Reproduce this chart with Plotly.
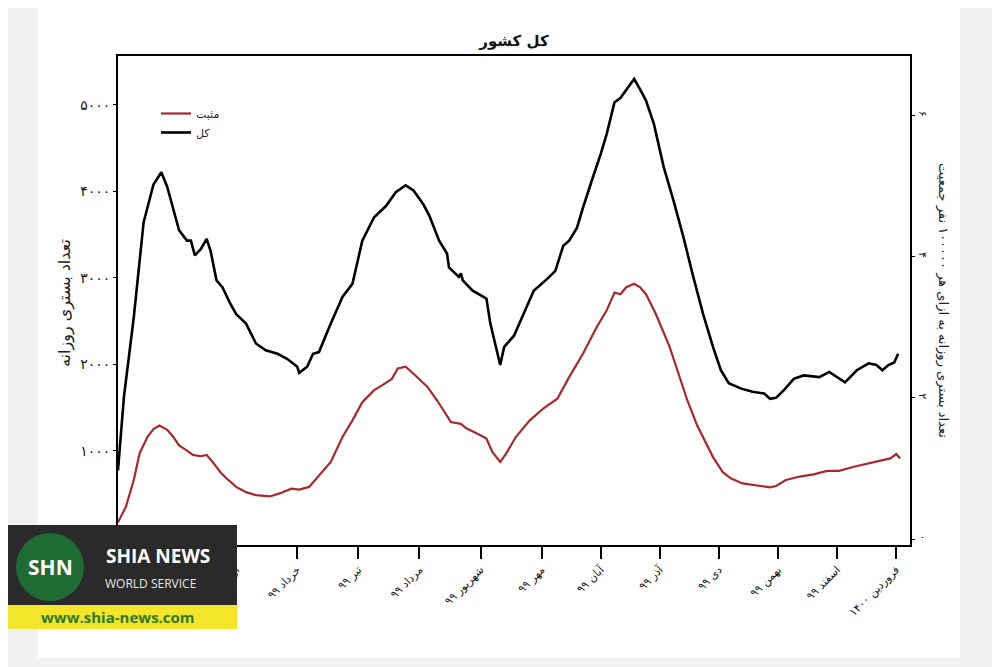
import plotly.graph_objects as go

# day 0 = 1 Esfand 98
days_total = [0, 3, 8, 13, 18, 22, 25, 29, 31, 35, 37, 39, 42, 45, 47, 50, 53, 57, 60, 65,
              70, 75, 81, 86, 91, 92, 96, 99, 102, 108, 114, 119, 124, 130, 136, 141, 146, 150, 155, 158,
              163, 167, 168, 173, 174, 175, 180, 187, 189, 194, 196, 201, 206, 211, 218, 222, 226, 229, 233, 236,
              241, 245, 248, 252, 255, 258, 262, 265, 268, 272, 277, 282, 287, 292, 297, 302, 306, 310, 316, 322,
              328, 331, 334, 338, 343, 348, 353, 356, 361, 365, 369, 375, 381, 385, 388, 391, 394, 396]
total = [770, 1620, 2540, 3640, 4080, 4220, 4050, 3700, 3550, 3430, 3430, 3260, 3330, 3450, 3310, 2970, 2890, 2700, 2580, 2470,
         2240, 2160, 2120, 2060, 1970, 1900, 1970, 2120, 2140, 2470, 2780, 2930, 3430, 3700, 3830, 3990, 4070, 4010, 3850, 3720,
         3430, 3280, 3120, 3010, 3050, 2970, 2850, 2760, 2470, 1990, 2200, 2330, 2580, 2850, 2990, 3080, 3370, 3430, 3580, 3810,
         4160, 4430, 4660, 5030, 5080, 5180, 5300, 5180, 5050, 4780, 4280, 3890, 3470, 3010, 2580, 2200, 1930, 1780, 1720, 1680,
         1660, 1600, 1610, 1700, 1830, 1870, 1860, 1850, 1910, 1850, 1790, 1930, 2010, 1990, 1930, 1990, 2020, 2120]

days_pos = [0, 4, 8, 11, 15, 18, 21, 25, 28, 31, 35, 38, 42, 45, 48, 52, 55, 60, 65, 70,
            77, 82, 88, 92, 97, 102, 108, 114, 119, 124, 130, 135, 139, 142, 146, 150, 157, 162, 166, 169,
            174, 177, 182, 187, 190, 194, 197, 202, 209, 216, 223, 229, 236, 243, 248, 252, 255, 258, 262, 265,
            268, 273, 280, 285, 289, 294, 298, 302, 307, 311, 317, 324, 331, 334, 339, 346, 353, 360, 366, 373,
            380, 387, 392, 395, 397]
positive = [170, 350, 660, 970, 1160, 1250, 1290, 1240, 1160, 1060, 1000, 950, 935, 950, 870, 750, 680, 580, 520, 485,
            470, 505, 560, 550, 580, 715, 870, 1160, 1350, 1560, 1700, 1770, 1830, 1950, 1970, 1890, 1740, 1580, 1430, 1330,
            1310, 1255, 1200, 1140, 985, 870, 965, 1160, 1350, 1490, 1600, 1850, 2120, 2430, 2620, 2830, 2810, 2890, 2930, 2890,
            2810, 2580, 2200, 1870, 1580, 1290, 1100, 925, 750, 680, 620, 600, 575, 590, 660, 700, 725, 765, 765, 810,
            850, 890, 910, 960, 910]

month_days = [29, 60, 91, 122, 153, 184, 215, 245, 275, 305, 335, 365, 395]
month_labels = ['فروردین ۹۹', 'اردیبهشت ۹۹', 'خرداد ۹۹', 'تیر ۹۹', 'مرداد ۹۹', 'شهریور ۹۹', 'مهر ۹۹',
                'آبان ۹۹', 'آذر ۹۹', 'دی ۹۹', 'بهمن ۹۹', 'اسفند ۹۹', 'فروردین ۱۴۰۰']

left_ticks = [0, 1000, 2000, 3000, 4000, 5000]
left_labels = ['۰', '۱۰۰۰', '۲۰۰۰', '۳۰۰۰', '۴۰۰۰', '۵۰۰۰']
right_ticks = [0, 2, 4, 6]
right_labels = ['۰', '۲', '۴', '۶']

FONT = 'DejaVu Sans'
OFF = 8  # page body margin
W, H = 1000 - OFF, 667 - OFF
L, R, T, B = 118, 910, 56, 545  # plot area, in screen pixels


def px(x):
    return (x - L) / (R - L)


def py(y):
    return (B - y) / (B - T)


fig = go.Figure()
fig.add_trace(go.Scatter(x=days_pos, y=positive, mode='lines', name='مثبت',
                         line=dict(color='#a8282c', width=2.2)))
fig.add_trace(go.Scatter(x=days_total, y=total, mode='lines', name='کل',
                         line=dict(color='black', width=2.6)))
# empty trace so that the right axis is drawn
fig.add_trace(go.Scatter(x=[], y=[], yaxis='y2', showlegend=False, hoverinfo='skip'))

fig.update_layout(
    width=W, height=H,
    margin=dict(l=L - OFF, r=1000 - R, t=T - OFF, b=667 - B),
    paper_bgcolor='#f0f1f3', plot_bgcolor='white',
    font=dict(family=FONT, color='#222', size=11),
    title=dict(text='<b>کل کشور</b>', x=px(514), xref='paper', xanchor='center',
               y=1 - (41 - OFF) / H, yanchor='middle',
               font=dict(size=15, color='#111')),
    showlegend=True,
    legend=dict(x=px(156), y=py(99), xanchor='left', yanchor='top', bgcolor='rgba(0,0,0,0)',
                font=dict(size=11), tracegroupgap=4),
    xaxis=dict(range=[0, 402], tickvals=month_days, ticktext=month_labels, tickangle=-45,
               ticks='outside', ticklen=12, tickwidth=1.5, tickcolor='black',
               showline=True, linecolor='black', linewidth=2, mirror=True,
               showgrid=False, zeroline=False, tickfont=dict(size=11, color='#111')),
    yaxis=dict(range=[-92, 5566], tickvals=left_ticks, ticktext=left_labels,
               ticks='outside', ticklen=3, tickcolor='black',
               showline=True, linecolor='black', linewidth=1.8, mirror=True,
               showgrid=False, zeroline=False, tickfont=dict(size=14, color='#111')),
    yaxis2=dict(overlaying='y', side='right', range=[-0.085, 6.84], tickvals=right_ticks, ticktext=right_labels,
                ticks='outside', ticklen=3, tickcolor='black', tickangle=90,
                showline=True, linecolor='black', linewidth=1.8,
                showgrid=False, zeroline=False, tickfont=dict(size=11, color='#111')),
)

# white card behind the chart
fig.add_shape(type='rect', xref='paper', yref='paper', layer='below',
              x0=px(38), x1=px(960), y0=py(658), y1=py(6),
              fillcolor='white', line=dict(width=0))

fig.add_annotation(text='تعداد بستری روزانه', xref='paper', yref='paper',
                   x=px(65), y=py(303), textangle=-90, showarrow=False,
                   xanchor='center', yanchor='middle', font=dict(size=16, color='#222'))
fig.add_annotation(text='تعداد بستری روزانه به ازای هر ۱۰۰۰۰۰ نفر جمعیت', xref='paper', yref='paper',
                   x=px(943), y=py(300), textangle=90, showarrow=False,
                   xanchor='center', yanchor='middle', font=dict(size=13, color='#222'))

# watermark
fig.add_shape(type='rect', xref='paper', yref='paper', layer='above',
              x0=px(OFF - 10), x1=px(237), y0=py(605), y1=py(525),
              fillcolor='#2a2a2a', line=dict(width=0))
fig.add_shape(type='rect', xref='paper', yref='paper', layer='above',
              x0=px(OFF - 10), x1=px(237), y0=py(629), y1=py(605),
              fillcolor='#f3e52a', line=dict(width=0))
fig.add_shape(type='circle', xref='paper', yref='paper', layer='above',
              x0=px(16), x1=px(84), y0=py(601), y1=py(533),
              fillcolor='#1f6b34', line=dict(width=0))
wm = dict(xref='paper', yref='paper', showarrow=False, xanchor='center', yanchor='middle')
fig.add_annotation(text='<b>SHN</b>', x=px(50), y=py(567),
                   font=dict(family='Open Sans', size=21, color='white'), **wm)
fig.add_annotation(text='<b>SHIA NEWS</b>', x=px(158), y=py(556),
                   font=dict(family='Open Sans', size=19, color='white'), **wm)
fig.add_annotation(text='WORLD SERVICE', x=px(150), y=py(583),
                   font=dict(family='Open Sans', size=12, color='#e6e6e6'), **wm)
fig.add_annotation(text='<b>www.shia-news.com</b>', x=px(118), y=py(617),
                   font=dict(family='Open Sans', size=15, color='#2f7a22'), **wm)

fig.write_html("out.html")
